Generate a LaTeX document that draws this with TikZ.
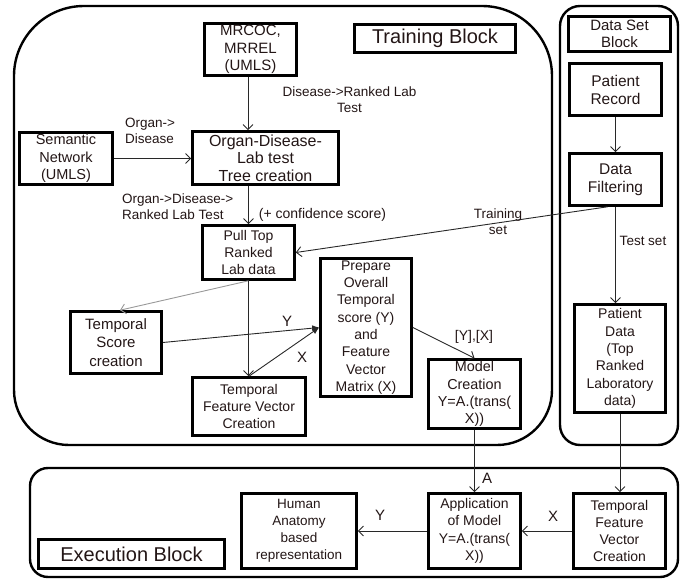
\documentclass[tikz,border=0pt]{standalone}
\usepackage{fontspec}
\setmainfont{Liberation Sans}
\usetikzlibrary{arrows.meta}
\definecolor{txt}{RGB}{35,22,22}
\definecolor{ln}{RGB}{40,40,40}
\begin{document}
\begin{tikzpicture}[x=1pt,y=-1pt,
  box/.style={draw=black, line width=2.6pt, align=center, inner sep=0pt, text=txt, font=\fontsize{14}{17.3}\selectfont},
  blk/.style={draw=black, line width=2.4pt},
  arr/.style={draw=ln, line width=0.9pt, -{Straight Barb[length=5pt,width=10pt]}},
  farr/.style={draw=ln, line width=0.9pt, -{Latex[length=7pt,width=6pt]}},
  lbl/.style={text=txt, font=\fontsize{13.5}{16}\selectfont, inner sep=0pt, align=center},
  big/.style={font=\fontsize{20}{24}\selectfont},
  fif/.style={font=\fontsize{15}{17.5}\selectfont},
]
\useasboundingbox (0,0) rectangle (686,581);

% outer blocks
\draw[blk] (14,225) [rounded corners=70pt] -- (14,6) -- (552,6) -- (552,225)
  [rounded corners=55pt] -- (552,445) -- (14,445) -- cycle;
\draw[blk, rounded corners=20pt] (560,6) rectangle (678,445);
\draw[blk, rounded corners=18pt] (30,468) rectangle (678,577);

% training block nodes
\node[box, fif, minimum width=92pt, minimum height=52pt] (mrcoc) at (250.5,49.5) {MRCOC,\\MRREL\\(UMLS)};
\node[box, big, minimum width=161pt, minimum height=28pt] (trainlbl) at (435,38.5) {Training Block};
\node[box, font=\fontsize{14.5}{17.5}\selectfont, minimum width=93pt, minimum height=52pt] (sem) at (66,158.5) {Semantic\\Network\\(UMLS)};
\node[box, font=\fontsize{16}{17.5}\selectfont, minimum width=146pt, minimum height=53pt] (tree) at (265.5,158) {Organ-Disease-\\Lab test\\Tree creation};
\node[box, minimum width=92pt, minimum height=54pt] (pull) at (248.5,252.5) {Pull Top\\Ranked\\Lab data};
\node[box, font=\fontsize{15}{18.3}\selectfont, minimum width=91pt, minimum height=62pt] (tscore) at (116,342.5) {Temporal\\Score\\creation};
\node[box, minimum width=113pt, minimum height=58pt] (tfvc) at (249,406.5) {Temporal\\Feature Vector\\Creation};
\node[box, minimum width=91pt, minimum height=138pt] (prep) at (366,327.5) {Prepare\\Overall\\Temporal\\score (Y)\\and\\Feature\\Vector\\Matrix (X)};
\node[box, font=\fontsize{14.4}{17.3}\selectfont, minimum width=92pt, minimum height=69pt] (model) at (474.5,394) {Model\\Creation\\Y=A.(trans(\\X))};

% data set block nodes
\node[box, fif, minimum width=102pt, minimum height=35pt] (dslbl) at (619.5,34) {Data Set\\Block};
\node[box, font=\fontsize{15.5}{18}\selectfont, minimum width=92pt, minimum height=52pt] (prec) at (615.5,89.5) {Patient\\Record};
\node[box, font=\fontsize{15.5}{18}\selectfont, minimum width=92pt, minimum height=52pt] (filt) at (615.5,179.5) {Data\\Filtering};
\node[box, minimum width=91pt, minimum height=108pt] (pdata) at (620,358.5) {Patient\\Data\\(Top\\Ranked\\Laboratory\\data)};

% execution block nodes
\node[box, big, minimum width=186pt, minimum height=29pt] (exlbl) at (131.5,554) {Execution Block};
\node[box, font=\fontsize{13.5}{17}\selectfont, minimum width=115pt, minimum height=75pt] (human) at (299,531) {Human\\Anatomy\\based\\representation};
\node[box, minimum width=92pt, minimum height=75pt] (app) at (474.5,531) {Application\\of Model\\Y=A.(trans(\\X))};
\node[box, minimum width=92pt, minimum height=75pt] (tfvc2) at (619.5,531) {Temporal\\Feature\\Vector\\Creation};

% connectors
\draw[arr] ([xshift=-2.5pt]mrcoc.south) -- ([xshift=-2.5pt]mrcoc.south |- tree.north);
\draw[arr] (sem.east) -- (sem.east -| tree.west);
\draw[arr] (pull.north |- tree.south) -- (pull.north);
\draw[arr] ([xshift=-8pt]filt.south) -- (pull.east);
\draw[arr, draw=gray!80] (pull.south) -- ([xshift=4pt]tscore.north);
\draw[arr] (pull.south) -- (pull.south |- tfvc.north);
\draw[farr] (tscore.east) -- (prep.west);
\draw[farr] (tfvc.north) -- (prep.west);
\draw[arr] (prep.east) -- (model.north);
\draw[arr] (prec.south) -- (filt.north);
\draw[arr] (filt.south) -- (filt.south |- pdata.north);
\draw[arr] (model.south) -- (app.north);
\draw[arr] (pdata.south) -- (pdata.south |- tfvc2.north);
\draw[arr] (tfvc2.west) -- (app.east);
\draw[arr] (app.west) -- (human.east);

% labels
\node[lbl, align=left, anchor=west] (l1) at (125,131) {Organ->\\Disease};
\node[lbl] (l2) at (349.5,100) {Disease->Ranked Lab\\Test};
\node[lbl, align=left, anchor=west] (l3) at (122,207) {Organ->Disease->\\Ranked Lab Test};
\node[lbl, font=\fontsize{14}{16}\selectfont] (l4) at (322.5,215) {(+ confidence score)};
\node[lbl] (l5) at (498,222) {Training\\set};
\node[lbl] (l6) at (643,241) {Test set};
\node[lbl, font=\fontsize{15}{17}\selectfont] (l7) at (287,321) {Y};
\node[lbl, font=\fontsize{15}{17}\selectfont] (l8) at (302,357) {X};
\node[lbl, font=\fontsize{14}{17}\selectfont] (l9) at (474,337) {[Y],[X]};
\node[lbl, font=\fontsize{15}{17}\selectfont] (l10) at (487,478) {A};
\node[lbl, font=\fontsize{15}{17}\selectfont] (l11) at (553,516) {X};
\node[lbl, font=\fontsize{15}{17}\selectfont] (l12) at (380,515) {Y};
\end{tikzpicture}
\end{document}
